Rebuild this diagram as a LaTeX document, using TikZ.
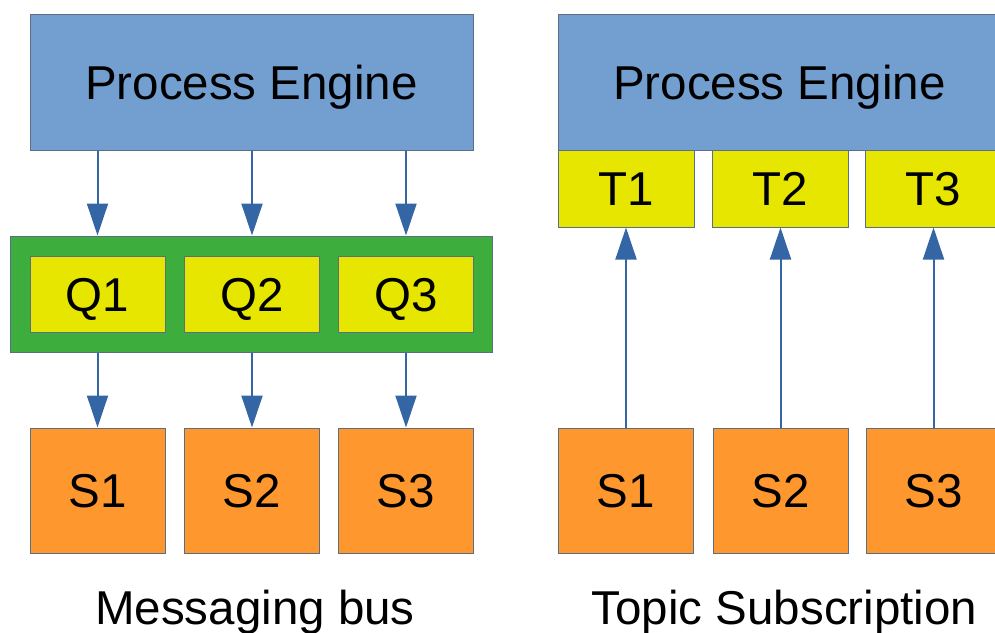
\documentclass[tikz,border=0pt]{standalone}
\usepackage{fontspec}
\setmainfont{Liberation Sans}
\usetikzlibrary{arrows.meta}
\definecolor{engineblue}{HTML}{729FCF}
\definecolor{queueyellow}{HTML}{E6E600}
\definecolor{busgreen}{HTML}{3DAE3D}
\definecolor{subsorange}{HTML}{FF972F}
\definecolor{edgegray}{HTML}{5A6E84}
\definecolor{arrowblue}{HTML}{3465A4}
\tikzset{
  box/.style={draw=edgegray, line width=1pt, rectangle, inner sep=0pt,
    font=\fontsize{47.5}{50}\selectfont, text height=34pt, text depth=0pt},
  engine/.style={box, fill=engineblue, minimum width=443pt, minimum height=136pt},
  bus/.style={box, fill=busgreen, minimum width=482pt, minimum height=116pt},
  queue/.style={box, fill=queueyellow, minimum width=135pt, minimum height=76pt},
  topic/.style={box, fill=queueyellow, minimum width=136pt, minimum height=77pt},
  subscriber/.style={box, fill=subsorange, minimum width=135pt, minimum height=125pt},
  flow/.style={draw=arrowblue, line width=2pt,
    -{Triangle[length=32pt,width=21pt]}},
  caption/.style={inner sep=0pt, anchor=base, font=\fontsize{47.5}{50}\selectfont}
}
\begin{document}
\begin{tikzpicture}[x=1pt, y=-1pt]
\useasboundingbox (0,0) rectangle (995,632);
\clip (0,0) rectangle (995,632);

% messaging bus variant
\node[engine] (peL) at (251.5,82) {Process Engine};
\node[bus] (busL) at (251,294) {};
\node[queue] (q1) at (97.5,294) {Q1};
\node[queue] (q2) at (252,294) {Q2};
\node[queue] (q3) at (406,294) {Q3};
\node[subscriber] (s1L) at (97.5,490.5) {S1};
\node[subscriber] (s2L) at (252,490.5) {S2};
\node[subscriber] (s3L) at (406,490.5) {S3};
\foreach \q/\s in {q1/s1L, q2/s2L, q3/s3L} {
  \draw[flow] (peL.south -| \q) -- (busL.north -| \q);
  \draw[flow] (busL.south -| \q) -- (\s.north);
}
\node[caption] (capL) at (255,624) {Messaging bus};

% topic subscription variant
\node[engine] (peR) at (779.5,82) {Process Engine};
\node[topic] (t1) at (626,188.5) {T1};
\node[topic] (t2) at (780.5,188.5) {T2};
\node[topic] (t3) at (933.5,188.5) {T3};
\node[subscriber] (s1R) at (626,490.5) {S1};
\node[subscriber] (s2R) at (780.5,490.5) {S2};
\node[subscriber] (s3R) at (933.5,490.5) {S3};
\foreach \s/\t in {s1R/t1, s2R/t2, s3R/t3} {
  \draw[flow] (\s.north) -- (\t.south);
}
\node[caption] (capR) at (784.5,624) {Topic Subscription};
\end{tikzpicture}
\end{document}
